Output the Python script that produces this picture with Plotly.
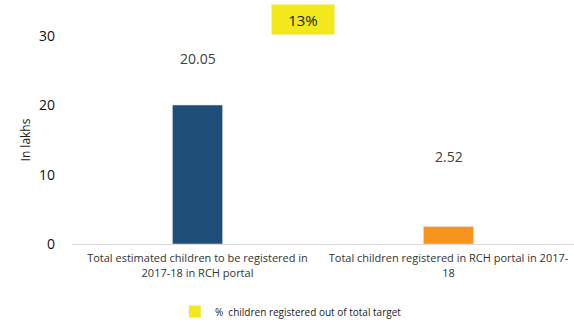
import plotly.graph_objects as go

categories = ["Total estimated children to be registered in<br>2017-18 in RCH portal",
              "Total children registered in RCH portal in 2017-<br>18"]
values = [20.05, 2.52]
value_labels = ["20.05", "2.52"]
bar_colors = ["#1f4e79", "#f7941d"]
pct_label = "13%"
legend_name = "%  children registered out of total target"
y_ticks = [0, 10, 20, 30]

FONT = "Open Sans"
fig = go.Figure()
fig.add_trace(go.Bar(x=categories, y=values, marker_color=bar_colors, width=0.2,
                     showlegend=False, hoverinfo="skip"))
fig.add_trace(go.Bar(x=[categories[0]], y=[None], marker_color="#f2e81a",
                     name=legend_name, showlegend=True))

for c, v, t, sh in zip(categories, values, value_labels, [46, 70]):
    fig.add_annotation(x=c, y=v, text=t, showarrow=False, yshift=sh,
                       font=dict(family=FONT, size=14, color="#404040"))

fig.add_annotation(xref="paper", yref="paper", x=0.461, y=1.077, text=pct_label,
                   xanchor="center", yanchor="middle",
                   showarrow=False, bgcolor="#f2e81a", width=60, height=27,
                   font=dict(family=FONT, size=15, color="#222222"))

fig.update_layout(
    width=574, height=322,
    margin=dict(l=72, r=0, t=36, b=78, autoexpand=False),
    plot_bgcolor="white", paper_bgcolor="white",
    barmode="overlay",
    font=dict(family=FONT, color="#222222"),
    legend=dict(orientation="h", x=0.205, xanchor="left", y=-0.325, yanchor="middle",
                font=dict(family=FONT, size=10, color="#222222")),
    xaxis=dict(showline=True, linecolor="#d9d9d9", linewidth=1, ticks="",
               automargin=False, ticklabelstandoff=4,
               tickfont=dict(family=FONT, size=11, color="#333333")),
    yaxis=dict(range=[0, 30], tickvals=y_ticks, showgrid=False, zeroline=False,
               showline=False, ticklabelstandoff=16, automargin=False,
               tickfont=dict(family=FONT, size=14, color="#111111"),
               title=dict(text="In lakhs", standoff=5,
                          font=dict(family=FONT, size=12, color="#222222"))),
)
fig.write_html("out.html", config={"displayModeBar": False},
               post_script="document.body.style.margin='0';document.body.style.overflow='hidden';")
